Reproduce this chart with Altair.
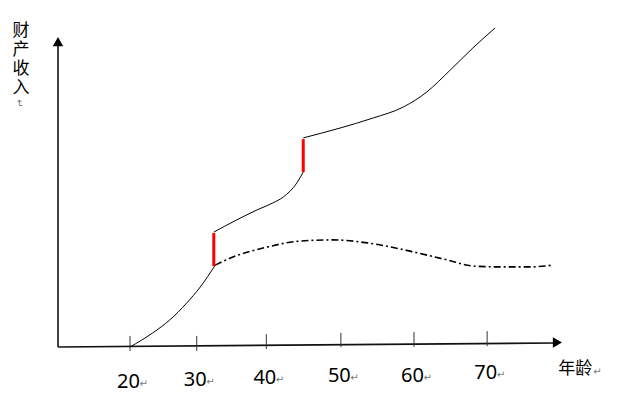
import altair as alt
import pandas as pd

# ---- data (x in "age" units, y in "property income" units) ----
low_age = [20.0, 23.2, 25.6, 28.0, 29.9, 32.0]
low_inc = [0.0, 4.7, 9.0, 14.7, 20.0, 27.3]

mid_age = [31.8, 37.9, 40.1, 41.6, 43.5, 44.4]
mid_inc = [38.3, 45.7, 48.0, 50.0, 54.7, 58.3]

high_age = [44.4, 49.6, 54.2, 58.5, 61.8, 65.1, 68.3, 71.4]
high_inc = [69.7, 73.0, 76.3, 80.0, 85.0, 92.3, 99.7, 106.3]

alt_age = [32.0, 34.5, 39.3, 43.9, 48.6, 53.4, 58.0, 59.9, 64.7, 68.3, 72.1, 76.3, 79.6]
alt_inc = [27.3, 30.0, 33.3, 35.3, 35.7, 34.7, 32.7, 31.7, 29.0, 27.0, 26.7, 26.7, 27.3]

jump_age = [31.8, 44.4]
jump_from = [27.0, 58.3]
jump_to = [38.0, 69.3]

tick_age = [20.0, 29.4, 39.2, 49.7, 60.0, 70.3]
tick_top = [3.7, 3.7, 4.3, 4.7, 5.0, 5.3]
tick_bot = [-1.3, -1.3, -0.7, 0.0, 0.0, 0.3]
tick_labels = ["20", "30", "40", "50", "60", "70"]
label_inc = [-13.7, -13.0, -12.3, -11.7, -11.7, -10.7]

axis_x0, axis_x1 = 9.86, 79.6
axis_y0, axis_y1 = 0.0, 1.33
axis_top = 100.3

y_title_chars = ["财", "产", "收", "入"]
x_title = "年龄"

X_DOMAIN = [2.817, 88.31]
Y_DOMAIN = [-15.667, 113.0]

xs = alt.Scale(domain=X_DOMAIN, nice=False, zero=False)
ys = alt.Scale(domain=Y_DOMAIN, nice=False, zero=False)


def X(f="x"):
    return alt.X(f"{f}:Q", scale=xs, axis=None)


def Y(f="y"):
    return alt.Y(f"{f}:Q", scale=ys, axis=None)


def curve(ages, incs):
    return pd.DataFrame({"x": ages, "y": incs, "o": list(range(len(ages)))})


low = alt.Chart(curve(low_age, low_inc)).mark_line(
    color="black", strokeWidth=1, interpolate="monotone"
).encode(x=X(), y=Y(), order="o:Q")
mid = alt.Chart(curve(mid_age, mid_inc)).mark_line(
    color="black", strokeWidth=1, interpolate="monotone"
).encode(x=X(), y=Y(), order="o:Q")
high = alt.Chart(curve(high_age, high_inc)).mark_line(
    color="black", strokeWidth=1, interpolate="monotone"
).encode(x=X(), y=Y(), order="o:Q")
dash = alt.Chart(curve(alt_age, alt_inc)).mark_line(
    color="black", strokeWidth=1.6, interpolate="monotone", strokeDash=[7, 3, 2, 3]
).encode(x=X(), y=Y(), order="o:Q")

jumps = alt.Chart(pd.DataFrame({"x": jump_age, "y": jump_from, "y2": jump_to})).mark_rule(
    color="#ff0000", strokeWidth=3
).encode(x=X(), y=Y(), y2="y2:Q")

axes_df = pd.DataFrame({
    "x": [axis_x0, axis_x0],
    "y": [axis_y0, axis_y0],
    "x2": [axis_x1, axis_x0],
    "y2": [axis_y1, axis_top],
})
axes = alt.Chart(axes_df).mark_rule(color="#111111", strokeWidth=1.6).encode(
    x=X(), y=Y(), x2="x2:Q", y2="y2:Q"
)

arrow_x = alt.Chart(pd.DataFrame({"x": [80.2], "y": [1.5]})).mark_point(
    shape="triangle-right", size=110, filled=True, color="black", opacity=1
).encode(x=X(), y=Y())
arrow_y = alt.Chart(pd.DataFrame({"x": [axis_x0], "y": [101.8]})).mark_point(
    shape="triangle-up", size=110, filled=True, color="black", opacity=1
).encode(x=X(), y=Y())

ticks = alt.Chart(pd.DataFrame({"x": tick_age, "y": tick_bot, "y2": tick_top})).mark_rule(
    color="#333333", strokeWidth=1
).encode(x=X(), y=Y(), y2="y2:Q")

lab_df = pd.DataFrame({"x": tick_age, "y": label_inc, "t": tick_labels})
labels = alt.Chart(lab_df).mark_text(
    font="Noto Sans", fontSize=20, align="center", baseline="alphabetic", dx=-1.5, color="black"
).encode(x=X(), y=Y(), text="t:N")
label_marks = alt.Chart(lab_df).mark_text(
    font="DejaVu Sans", fontSize=10, align="left", baseline="alphabetic", dx=9.5, dy=-1, color="#777777"
).encode(x=X(), y=Y(), text=alt.value("↵"))

yt_df = pd.DataFrame({
    "x": [4.65] * len(y_title_chars),
    "y": [105.3 - i * 6.3 for i in range(len(y_title_chars))],
    "t": y_title_chars,
})
y_title = alt.Chart(yt_df).mark_text(
    font="Noto Sans CJK SC", fontSize=17, align="center", baseline="middle", color="black"
).encode(x=X(), y=Y(), text="t:N")
y_title_mark = alt.Chart(pd.DataFrame({"x": [4.4], "y": [81.3]})).mark_text(
    font="DejaVu Sans", fontSize=10, align="center", baseline="middle", angle=90, color="#777777"
).encode(x=X(), y=Y(), text=alt.value("↵"))

x_title_df = pd.DataFrame({"x": [80.3], "y": [-7.2], "t": [x_title]})
x_title_c = alt.Chart(x_title_df).mark_text(
    font="Noto Sans CJK SC", fontSize=17, align="left", baseline="middle", color="black"
).encode(x=X(), y=Y(), text="t:N")
x_title_mark = alt.Chart(x_title_df).mark_text(
    font="DejaVu Sans", fontSize=10, align="left", baseline="middle", dx=35, dy=3, color="#777777"
).encode(x=X(), y=Y(), text=alt.value("↵"))

chart = alt.layer(
    axes, ticks, arrow_x, arrow_y, low, mid, high, dash, jumps,
    labels, label_marks, y_title, y_title_mark, x_title_c, x_title_mark,
).properties(
    width=607, height=386, autosize=alt.AutoSizeParams(type="none"), padding=0
).configure_view(stroke=None)

chart.save("out.html", embed_options={"renderer": "svg", "actions": False})
